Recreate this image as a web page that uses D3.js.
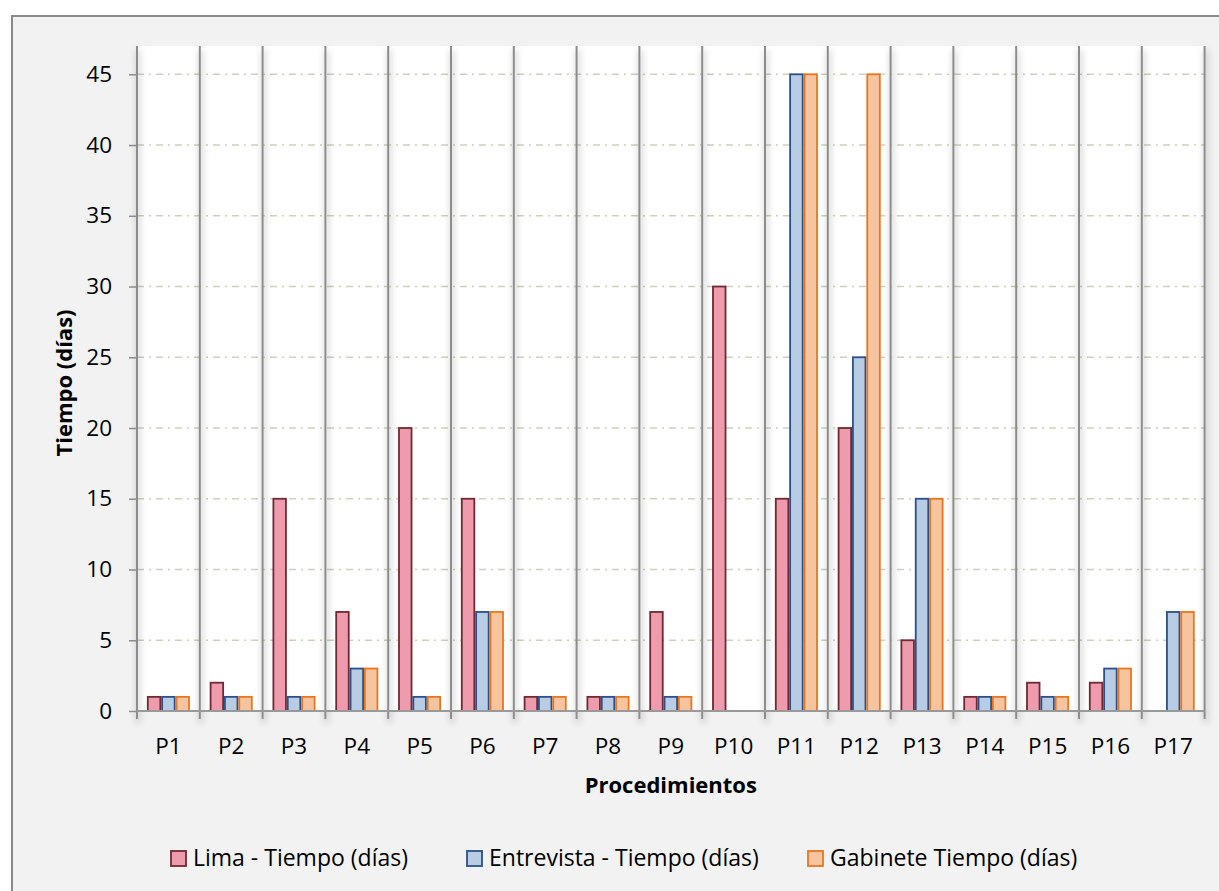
<!DOCTYPE html>
<html><head><meta charset="utf-8">
<script src="https://cdn.jsdelivr.net/npm/d3@7"></script>
<style>html,body{margin:0;padding:0;background:#fff;}svg{display:block;}</style>
</head><body>
<script>
const categories = ["P1","P2","P3","P4","P5","P6","P7","P8","P9","P10","P11","P12","P13","P14","P15","P16","P17"];
const lima = [1,2,15,7,20,15,1,1,7,30,15,20,5,1,2,2,null];
const entrevista = [1,1,1,3,1,7,1,1,1,null,45,25,15,1,1,3,7];
const gabinete = [1,1,1,3,1,7,1,1,1,null,45,45,15,1,1,3,7];
const yTicks = [0,5,10,15,20,25,30,35,40,45];
const seriesNames = ["Lima - Tiempo (días)","Entrevista - Tiempo (días)","Gabinete Tiempo (días)"];
const xTitle = "Procedimientos";
const yTitle = "Tiempo (días)";

(function(){
const series = [
  {name: seriesNames[0], values: lima, fill: "#ef9bae", stroke: "#6e2a30"},
  {name: seriesNames[1], values: entrevista, fill: "#b8cce4", stroke: "#2b5089"},
  {name: seriesNames[2], values: gabinete, fill: "#f7c4a0", stroke: "#e8761f"}
];

const W = 1219, H = 891;
const font = "'Open Sans', 'Noto Sans', sans-serif";
const svg = d3.select("body").append("svg").attr("width", W).attr("height", H);

const defs = svg.append("defs");
const f = defs.append("filter").attr("id","sh").attr("filterUnits","userSpaceOnUse")
  .attr("x",0).attr("y",0).attr("width",W).attr("height",H);
f.append("feGaussianBlur").attr("in","SourceAlpha").attr("stdDeviation",3.5).attr("result","b");
f.append("feOffset").attr("in","b").attr("dx",1).attr("dy",4).attr("result","o");
f.append("feComponentTransfer").attr("in","o").attr("result","o2").append("feFuncA").attr("type","linear").attr("slope",0.4);
const fm = f.append("feMerge"); fm.append("feMergeNode").attr("in","o2"); fm.append("feMergeNode").attr("in","SourceGraphic");

// outer frame
svg.append("rect").attr("x",12).attr("y",16).attr("width",W+20).attr("height",H+20)
  .attr("fill","#f2f2f2").attr("stroke","#8a8a8a").attr("stroke-width",2);

const pL = 137, pR = 1204.6, pT = 46, pB = 711;
const x = d3.scaleBand().domain(categories).range([pL, pR]).paddingInner(0).paddingOuter(0);
const y = d3.scaleLinear().domain([0, 47]).range([pB, pT]);
const xs = d3.scaleBand().domain(series.map(s=>s.name)).range([0, x.bandwidth()]).paddingInner(0).paddingOuter(0.69);

svg.append("rect").attr("x",pL).attr("y",pT).attr("width",pR-pL).attr("height",pB-pT).attr("fill","#fff");

// horizontal gridlines (dash-dot)
svg.append("g").selectAll("line").data(yTicks.filter(t=>t>0)).join("line")
  .attr("x1",pL).attr("x2",pR).attr("y1",d=>y(d)).attr("y2",d=>y(d))
  .attr("stroke","#cfcfbd").attr("stroke-width",1.6).attr("stroke-dasharray","7,5,2,5");

// vertical category separators with shadow
const bounds = categories.map(c=>x(c)).concat([pR]);
svg.append("g").attr("filter","url(#sh)").selectAll("line").data(bounds).join("line")
  .attr("x1",d=>d).attr("x2",d=>d).attr("y1",pT).attr("y2",pB+8)
  .attr("stroke","#8c8c8c").attr("stroke-width",2);

// bars
const g = svg.append("g");
series.forEach(s=>{
  g.append("g").selectAll("rect").data(categories.map((c,i)=>({c, v:s.values[i]})).filter(d=>d.v!=null)).join("rect")
    .attr("x",d=>x(d.c)+xs(s.name)+0.9).attr("width",xs.bandwidth()-1.8)
    .attr("y",d=>y(d.v)).attr("height",d=>y(0)-y(d.v))
    .attr("fill",s.fill).attr("stroke",s.stroke).attr("stroke-width",1.8);
});

// x axis
svg.append("line").attr("x1",pL).attr("x2",pR).attr("y1",pB).attr("y2",pB)
  .attr("stroke","#999").attr("stroke-width",2);
// y axis line + ticks
svg.append("line").attr("x1",pL).attr("x2",pL).attr("y1",pT).attr("y2",pB)
  .attr("stroke","#8c8c8c").attr("stroke-width",1.5);
const yAxis = d3.axisLeft(y).tickValues(yTicks).tickSize(8).tickPadding(17);
const ya = svg.append("g").attr("transform",`translate(${pL},0)`).call(yAxis);
ya.select(".domain").remove();
ya.selectAll(".tick line").attr("stroke","#8c8c8c").attr("stroke-width",1.5);
ya.selectAll(".tick text").attr("font-family",font).attr("font-size",22.5).attr("fill","#000");

const xAxis = d3.axisBottom(x).tickSize(0).tickPadding(27);
const xa = svg.append("g").attr("transform",`translate(0,${pB})`).call(xAxis);
xa.select(".domain").remove();
xa.selectAll(".tick text").attr("font-family",font).attr("font-size",22.5).attr("fill","#000");

svg.append("text").attr("x",(pL+pR)/2).attr("y",793).attr("text-anchor","middle")
  .attr("font-family",font).attr("font-weight","bold").attr("font-size",22).text(xTitle);
svg.append("text").attr("transform","translate(72,383) rotate(-90)").attr("text-anchor","middle")
  .attr("font-family",font).attr("font-weight","bold").attr("font-size",22).text(yTitle);

// legend
const legX = [171, 467, 808];
const lg = svg.append("g");
series.forEach((s,i)=>{
  lg.append("rect").attr("x",legX[i]).attr("y",851).attr("width",15).attr("height",15)
    .attr("fill",s.fill).attr("stroke",s.stroke).attr("stroke-width",1.8);
  lg.append("text").attr("x",legX[i]+22).attr("y",866).attr("font-family",font).attr("font-size",23).text(s.name);
});
})();
</script>
</body></html>
